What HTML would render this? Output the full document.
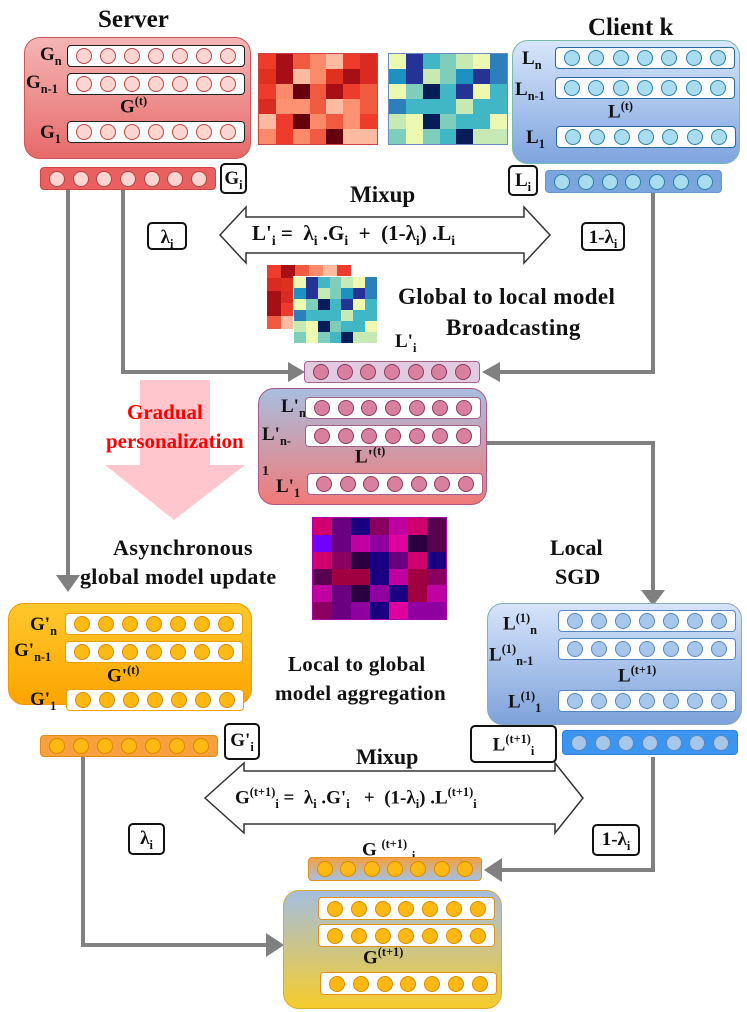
<!DOCTYPE html>
<html><head><meta charset="utf-8"><style>
body{margin:0;width:747px;height:1012px;background:#fff;position:relative;overflow:hidden;font-family:"Liberation Serif",serif;font-weight:bold;color:#111}
.a{position:absolute}
.box{position:absolute;border-radius:16px}
.row{position:absolute;background:#fff;border:1.5px solid #333;border-radius:4px;display:flex;justify-content:space-around;align-items:center;box-sizing:border-box;padding:0 4px}
.c{width:16px;height:16px;border-radius:50%;box-sizing:border-box}
.t{position:absolute;white-space:nowrap;line-height:1}
.lb{position:absolute;border:2px solid #111;border-radius:5px;background:#fff;box-sizing:border-box;font-size:19px;text-align:center;line-height:1}
.lb span{display:inline-block;margin-top:4px}
sub,sup{font-size:65%}
.hm{position:absolute;display:grid}
</style></head><body>
<svg class="a" style="left:0;top:0" width="747" height="1012">
<g stroke="#808080" stroke-width="4" fill="none">
<polyline points="68,190 68,583"/>
<polyline points="123,190 123,372 300,372"/>
<polyline points="653,193 653,372 486,372"/>
<polyline points="487,443 653,443 653,598"/>
<polyline points="83,757 83,945 278,945"/>
<polyline points="653,757 653,870 487,870"/>
</g>
<g fill="#808080">
<path d="M56,575 L80,575 L68,592z"/>
<path d="M288,362 L305,372 L288,382z"/>
<path d="M500,362 L482,372 L500,382z"/>
<path d="M641,590 L665,590 L653,606z"/>
<path d="M266,933 L284,945 L266,957z"/>
<path d="M502,858 L484,870 L502,882z"/>
</g>
<path d="M140,380 L210,380 L210,465 L245,465 L174,520 L105,465 L140,465z" fill="#ffc0c8" opacity="0.9"/>
<path d="M220,235 L246,207 L246,217 L524,217 L524,207 L550,235 L524,263 L524,253 L246,253 L246,263z" fill="#fff" stroke="#333" stroke-width="1.5"/>
<path d="M205,798 L244,763 L244,771 L555,771 L555,763 L583,798 L555,833 L555,824 L244,824 L244,833z" fill="#fff" stroke="#333" stroke-width="1.5"/>
</svg>

<div class="t" style="left:98px;top:7px;font-size:25px">Server</div>
<div class="t" style="left:588px;top:15px;font-size:25px">Client k</div>
<div class="box" style="left:24px;top:37px;width:225px;height:120px;background:linear-gradient(#f5b5b5,#e66a6a);border:1px solid #c55"></div>
<div class="box" style="left:512px;top:40px;width:226px;height:122px;background:linear-gradient(#d8e6fa,#7ea4df);border:1px solid #7ba"></div>
<div class="box" style="left:258px;top:388px;width:227px;height:115px;background:linear-gradient(#a8bedf,#f07a78);border:1px solid #a58"></div>
<div class="box" style="left:8px;top:603px;width:242px;height:100px;background:linear-gradient(#ffc82c,#fca400);border:1px solid #e90"></div>
<div class="box" style="left:487px;top:603px;width:253px;height:120px;background:linear-gradient(#d6e4fa,#7ea2db);border:1px solid #8ab"></div>
<div class="box" style="left:283px;top:890px;width:217px;height:117px;background:linear-gradient(#a4bedf,#f6cc2c);border:1px solid #da3"></div>

<div class="t" style="left:40px;top:45px;font-size:19px">G<sub>n</sub></div>
<div class="t" style="left:26px;top:73px;font-size:19px">G<sub>n-1</sub></div>
<div class="t" style="left:120px;top:95px;font-size:19px">G<sup>(t)</sup></div>
<div class="t" style="left:40px;top:123px;font-size:19px">G<sub>1</sub></div>
<div class="t" style="left:522px;top:49px;font-size:19px">L<sub>n</sub></div>
<div class="t" style="left:515px;top:80px;font-size:19px">L<sub>n-1</sub></div>
<div class="t" style="left:608px;top:100px;font-size:19px">L<sup>(t)</sup></div>
<div class="t" style="left:526px;top:128px;font-size:19px">L<sub>1</sub></div>

<div class="lb" style="left:220px;top:163px;width:27px;height:31px"><span>G<sub>i</sub></span></div>
<div class="lb" style="left:508px;top:165px;width:30px;height:31px"><span>L<sub>i</sub></span></div>
<div class="t" style="left:350px;top:183px;font-size:23px">Mixup</div>
<div class="t" style="left:252px;top:223px;font-size:21px">L'<sub>i</sub> = &nbsp;λ<sub>i</sub> .G<sub>i</sub> &nbsp;+ &nbsp;(1-λ<sub>i</sub>) .L<sub>i</sub></div>
<div class="lb" style="left:147px;top:222px;width:40px;height:28px"><span>λ<sub>i</sub></span></div>
<div class="lb" style="left:581px;top:222px;width:44px;height:29px"><span>1-λ<sub>i</sub></span></div>
<div class="t" style="left:398px;top:285px;font-size:23px;letter-spacing:0.4px">Global to local model</div>
<div class="t" style="left:446px;top:316px;font-size:23px;letter-spacing:0.4px">Broadcasting</div>
<div class="t" style="left:395px;top:332px;font-size:19px">L'<sub>i</sub></div>

<div class="t" style="left:281px;top:397px;font-size:19px">L'<sub>n</sub></div>
<div class="t" style="left:262px;top:425px;font-size:19px">L'<sub>n-</sub></div>
<div class="t" style="left:355px;top:445px;font-size:19px">L'<sup>(t)</sup></div>
<div class="t" style="left:262px;top:465px;font-size:14px">1</div>
<div class="t" style="left:276px;top:477px;font-size:19px">L'<sub>1</sub></div>
<div class="t" style="left:127px;top:402px;font-size:21px;color:#f00">Gradual</div>
<div class="t" style="left:106px;top:431px;font-size:21px;color:#f00">personalization</div>
<div class="t" style="left:113px;top:537px;font-size:22px;letter-spacing:0.5px">Asynchronous</div>
<div class="t" style="left:80px;top:566px;font-size:22px;letter-spacing:0.3px">global model update</div>
<div class="t" style="left:550px;top:537px;font-size:22px">Local</div>
<div class="t" style="left:555px;top:566px;font-size:22px">SGD</div>

<div class="t" style="left:30px;top:615px;font-size:19px">G'<sub>n</sub></div>
<div class="t" style="left:14px;top:641px;font-size:19px">G'<sub>n-1</sub></div>
<div class="t" style="left:107px;top:664px;font-size:19px">G'<sup>(t)</sup></div>
<div class="t" style="left:30px;top:690px;font-size:19px">G'<sub>1</sub></div>
<div class="t" style="left:288px;top:654px;font-size:21px;letter-spacing:0.3px">Local to global</div>
<div class="t" style="left:275px;top:683px;font-size:21px;letter-spacing:0.3px">model aggregation</div>
<div class="t" style="left:503px;top:612px;font-size:19px">L<sup>(1)</sup><sub>n</sub></div>
<div class="t" style="left:489px;top:643px;font-size:19px">L<sup>(1)</sup><sub>n-1</sub></div>
<div class="t" style="left:618px;top:664px;font-size:19px">L<sup>(t+1)</sup></div>
<div class="t" style="left:508px;top:690px;font-size:19px">L<sup>(1)</sup><sub>1</sub></div>

<div class="lb" style="left:224px;top:723px;width:36px;height:37px"><span style="margin-top:6px">G'<sub>i</sub></span></div>
<div class="lb" style="left:470px;top:725px;width:87px;height:38px"><span style="margin-top:6px">L<sup>(t+1)</sup><sub>i</sub></span></div>
<div class="t" style="left:356px;top:746px;font-size:22px">Mixup</div>
<div class="t" style="left:235px;top:786px;font-size:19px">G<sup>(t+1)</sup><sub>i</sub> = &nbsp;λ<sub>i</sub> .G'<sub>i</sub> &nbsp; + &nbsp;(1-λ<sub>i</sub>) .L<sup>(t+1)</sup><sub>i</sub></div>
<div class="lb" style="left:128px;top:823px;width:37px;height:32px"><span>λ<sub>i</sub></span></div>
<div class="lb" style="left:592px;top:824px;width:48px;height:32px"><span>1-λ<sub>i</sub></span></div>
<div class="t" style="left:362px;top:838px;font-size:19px">G <sup>(t+1)</sup> <sub>i</sub></div>
<div class="t" style="left:363px;top:946px;font-size:19px">G<sup>(t+1)</sup></div>

<script>
function row(x,y,w,h,bg,bd,cf,cb,extra){
 var d=document.createElement('div');d.className='row';
 d.style.cssText='left:'+x+'px;top:'+y+'px;width:'+w+'px;height:'+h+'px;background:'+bg+';border-color:'+bd+';'+(extra||'');
 for(var i=0;i<7;i++){var c=document.createElement('div');c.className='c';c.style.background=cf;c.style.border='1.3px solid '+cb;d.appendChild(c);}
 document.body.appendChild(d);
}
var R=['#fcd4d0','#b44'],B=['#a8dcee','#2a7fa8'],P=['#d9809f','#8a3a60'],O=['#fdb913','#d98a00'],LB=['#a6c6ea','#5a86c0'];
row(67,45,178,22,'#fff','#222',R[0],R[1]);row(67,73,178,22,'#fff','#222',R[0],R[1]);row(67,121,178,22,'#fff','#222',R[0],R[1]);
row(40,167,176,23,'#e86060','#c44',R[0],R[1]);
row(555,47,180,22,'#fff','#2a6a9a',B[0],B[1]);row(555,77,180,22,'#fff','#2a6a9a',B[0],B[1]);row(556,126,180,22,'#fff','#2a6a9a',B[0],B[1]);
row(545,170,177,23,'#7aa6dd','#6a96cd',B[0],B[1]);
row(304,361,176,22,'#e2cbe0','#a06090',P[0],P[1]);
row(305,397,176,22,'#fff','#a06090',P[0],P[1]);row(305,425,176,22,'#fff','#a06090',P[0],P[1]);row(307,473,176,22,'#fff','#a06090',P[0],P[1]);
row(65,613,178,22,'#fff','#e9a000',O[0],O[1]);row(65,641,178,22,'#fff','#e9a000',O[0],O[1]);row(66,689,178,22,'#fff','#e9a000',O[0],O[1]);
row(40,735,178,22,'#f7a03c','#e08a20',O[0],O[1]);
row(558,610,178,22,'#fff','#5a86c0',LB[0],LB[1]);row(558,638,178,22,'#fff','#5a86c0',LB[0],LB[1]);row(558,690,178,22,'#fff','#5a86c0',LB[0],LB[1]);
row(562,730,176,25,'#3c96f0','#3080e0',LB[0],LB[1]);
row(308,857,174,24,'linear-gradient(#f3a040,#a6c0e0)','#e09020',O[0],O[1]);
row(318,897,177,23,'#fff','#e09020',O[0],O[1]);row(318,924,177,23,'#fff','#e09020',O[0],O[1]);row(320,972,177,23,'#fff','#e09020',O[0],O[1]);
function hm(x,y,w,h,cols,rows,pal,bd){
 var d=document.createElement('div');d.className='hm';
 d.style.cssText='left:'+x+'px;top:'+y+'px;width:'+w+'px;height:'+h+'px;grid-template-columns:repeat('+cols+',1fr);grid-template-rows:repeat('+rows+',1fr);border:1.5px solid '+bd+';box-sizing:border-box';
 var s=7;for(var i=0;i<cols*rows;i++){s=(s*9301+49297)%233280;var c=document.createElement('div');c.style.background=pal[Math.floor(s/233280*pal.length)];d.appendChild(c);}
 document.body.appendChild(d);
}
var red=['#d92b22','#f05a40','#fb8a6a','#fcbba1','#ef3b2c','#a50f15','#67000d','#e03020','#fc9272'];
var blu=['#2c7fb8','#41b6c4','#7fcdbb','#c7e9b4','#edf8b1','#253494','#081d58','#1d91c0','#41b6c4'];
var pur=['#5a0050','#1a0080','#8a0060','#9000a0','#c000a0','#d00070','#6a0080','#2a0040','#e000a0','#7000ff','#a00040'];
hm(258,53,120,92,7,6,red,'#c44');hm(388,53,120,92,7,6,blu,'#6a8ac0');
hm(266,264,86,66,6,5,red,'#fff');hm(293,276,85,68,7,6,blu,'#fff');
hm(312,517,135,103,7,6,pur,'#a0a');
</script>
</body></html>
